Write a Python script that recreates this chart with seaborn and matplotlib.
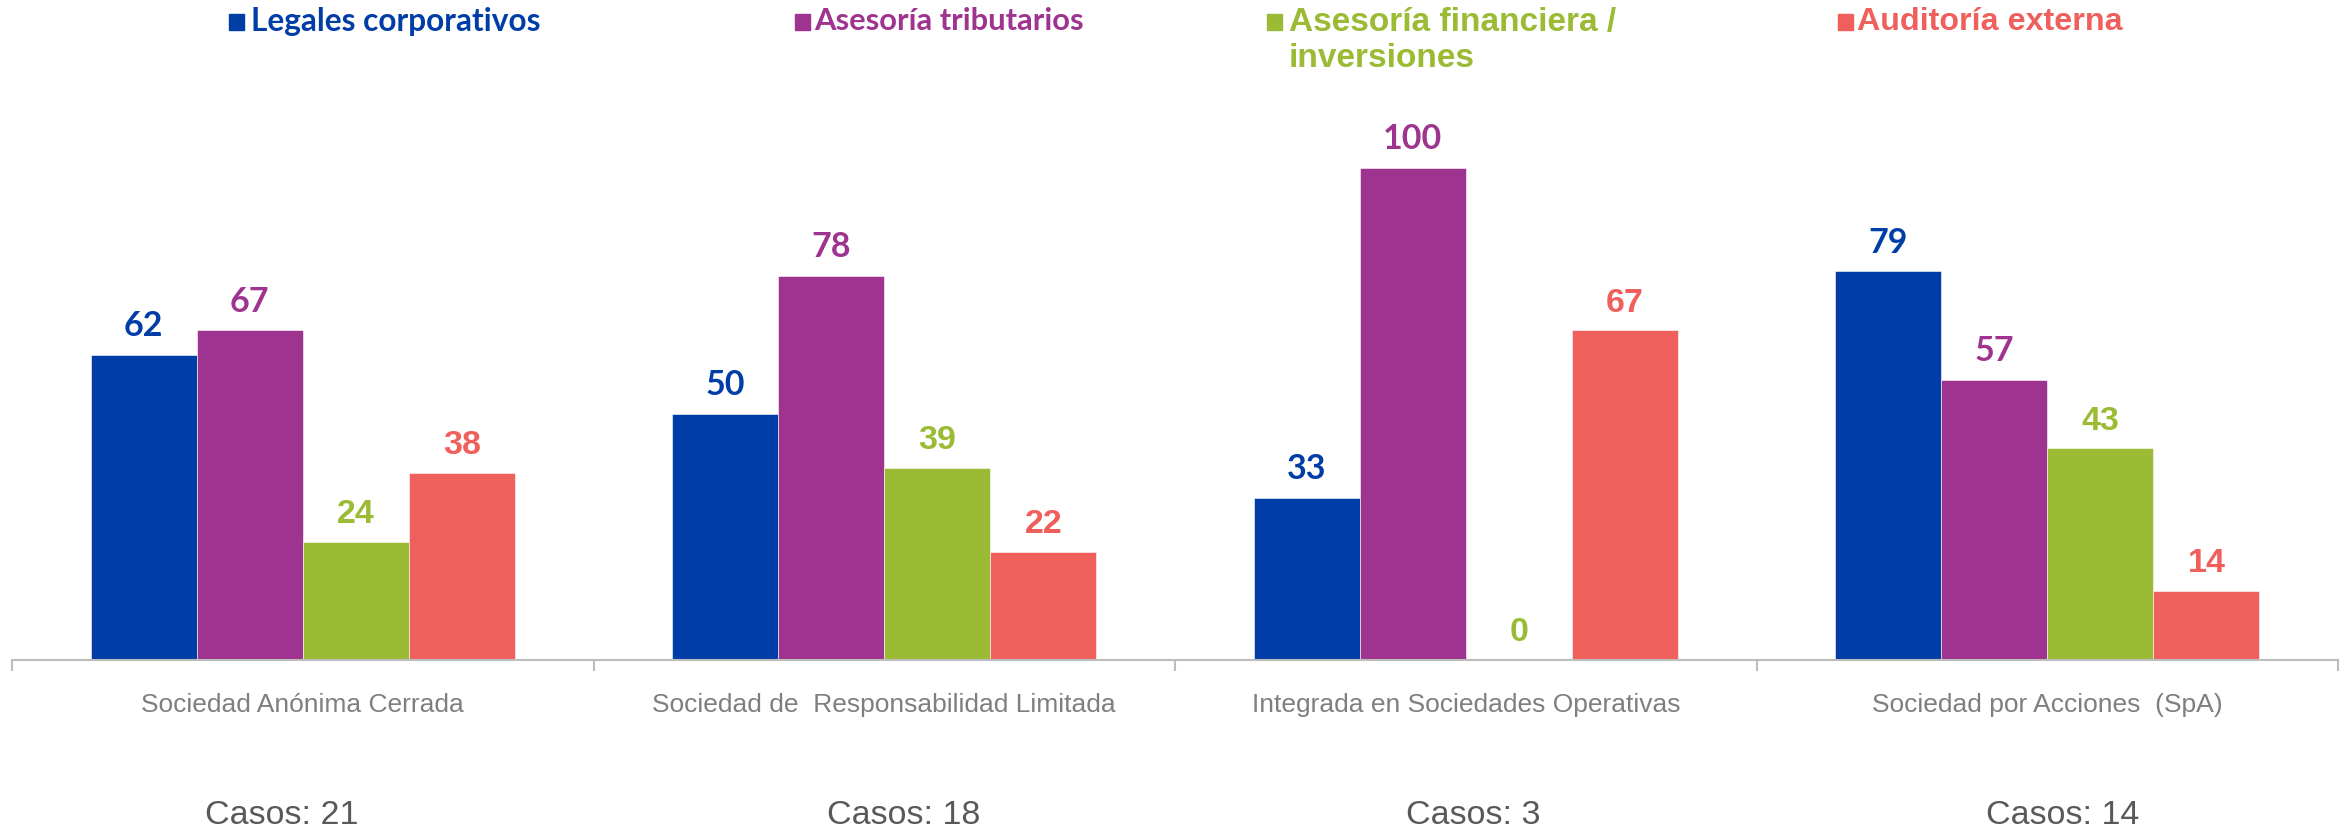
import matplotlib
matplotlib.use("Agg")
import matplotlib.pyplot as plt
from matplotlib.patches import Rectangle
from matplotlib.transforms import blended_transform_factory
import seaborn as sns
import pandas as pd
import numpy as np

# ---- data -------------------------------------------------------------
categories = [
    "Sociedad Anónima Cerrada",
    "Sociedad de  Responsabilidad Limitada",
    "Integrada en Sociedades Operativas",
    "Sociedad por Acciones  (SpA)",
]
cases = ["Casos: 21", "Casos: 18", "Casos: 3", "Casos: 14"]
series = ["Legales corporativos", "Asesoría tributarios",
          "Asesoría financiera /\ninversiones", "Auditoría externa"]
legales = [62, 50, 33, 79]
tributarios = [67, 78, 100, 57]
financiera = [24, 39, 0, 43]
auditoria = [38, 22, 67, 14]

colors = ["#003DA6", "#9E348F", "#9BBB35", "#EF5F5C"]
families = ["Lato", "Lato", "Liberation Sans", "Liberation Sans"]
legend_sizes = [22.8, 22.2, 24, 23.2]
case_shift = [-0.036, 0.033, 0.013, 0.026]

rows = []
for s, vals in zip(series, [legales, tributarios, financiera, auditoria]):
    for c, v in zip(categories, vals):
        rows.append({"Tipo": c, "Servicio": s, "Valor": v})
df = pd.DataFrame(rows)

# ---- figure -----------------------------------------------------------
sns.set_theme(style="white")
W, H = 2343, 831
fig = plt.figure(figsize=(W / 100, H / 100), dpi=100)
base_px = 660
top_px = 60
left_px, right_px = 12, 2338
ax = fig.add_axes([left_px / W, 1 - base_px / H,
                   (right_px - left_px) / W, (base_px - top_px) / H])

sns.barplot(data=df, x="Tipo", y="Valor", hue="Servicio", order=categories,
            hue_order=series, palette=colors, width=0.73, gap=0,
            saturation=1, edgecolor="white", linewidth=0.4,
            legend=False, ax=ax)

ax.set_xlim(-0.5, len(categories) - 0.5)
ax.set_ylim(0, (base_px - top_px) / 4.92)
ax.set_xlabel("")
ax.set_ylabel("")
ax.set_yticks([])
for side in ["left", "right", "top"]:
    ax.spines[side].set_visible(False)
ax.spines["bottom"].set_color("#BDBDBD")
ax.spines["bottom"].set_linewidth(1.5)

# category labels, with boundary ticks between groups
ax.set_xticks(range(len(categories)))
ax.set_xticklabels(categories, fontsize=19, color="#7F7F7F",
                   family="Liberation Sans")
ax.tick_params(axis="x", which="major", length=0, pad=24, bottom=True)
ax.set_xticks(np.arange(-0.5, len(categories), 1.0), minor=True)
ax.tick_params(axis="x", which="minor", length=8, width=1.5,
               color="#BDBDBD", direction="out", bottom=True)

# value labels above each bar
for container, col, fam in zip(ax.containers, colors, families):
    vals = [rect.get_height() for rect in container]
    for rect, v in zip(container, vals):
        ax.annotate(f"{v:.0f}",
                    (rect.get_x() + rect.get_width() / 2, rect.get_height()),
                    xytext=(0, 13.5), textcoords="offset points",
                    ha="center", va="baseline", fontsize=24.5,
                    fontweight="bold", color=col, family=fam)

# case counts under each category
trans = blended_transform_factory(ax.transData, fig.transFigure)
for i, (txt, dx) in enumerate(zip(cases, case_shift)):
    ax.text(i + dx, 1 - 816 / H, txt, transform=trans, ha="center",
            va="center", fontsize=24.5, color="#595959",
            family="Liberation Sans")

# legend row across the top
marker_x = [229, 795, 1267, 1838]
text_x = [251, 814, 1289, 1857]
leg_y = 22
msize = 15
for s, col, fam, fs, mx, tx in zip(series, colors, families, legend_sizes,
                                   marker_x, text_x):
    fig.patches.append(Rectangle((mx / W, 1 - (leg_y + msize / 2) / H),
                                 msize / W, msize / H, color=col,
                                 transform=fig.transFigure, figure=fig))
    fig.text(tx / W, 1 - (leg_y - 15) / H, s, ha="left", va="top",
             fontsize=fs, fontweight="bold", color=col, family=fam,
             linespacing=1.2)

fig.savefig("out.png", dpi=100, facecolor="white")
